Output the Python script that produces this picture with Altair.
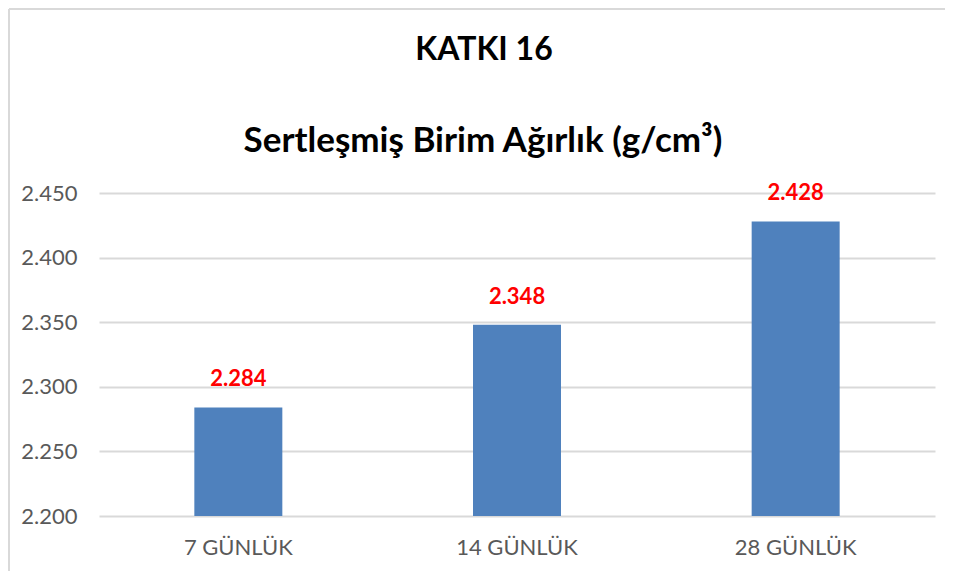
import altair as alt
import pandas as pd

categories = ["7 GÜNLÜK", "14 GÜNLÜK", "28 GÜNLÜK"]
values = [2.284, 2.348, 2.428]
y_ticks = [2.200, 2.250, 2.300, 2.350, 2.400, 2.450]
title_text = "KATKI 16"
subtitle_text = "Sertleşmiş Birim Ağırlık (g/cm³)"

df = pd.DataFrame({"cat": categories, "val": values})

W, H = 836, 323
PL, PT = 91, 185
FONT = "Lato"

x = alt.X(
    "cat:N", sort=categories, title=None,
    scale=alt.Scale(paddingInner=0, paddingOuter=0),
    axis=alt.Axis(labelAngle=0, labelFont=FONT, labelFontSize=22, labelColor="#595959",
                  ticks=False, domain=False, labelPadding=21),
)
y = alt.Y(
    "val:Q", title=None,
    scale=alt.Scale(domain=[2.2, 2.45], zero=False, nice=False),
    axis=alt.Axis(values=y_ticks, format=".3f", grid=True, gridColor="#d9d9d9", gridWidth=2,
                  domain=False, ticks=False, labelPadding=22, labelFont=FONT,
                  labelFontSize=22, labelColor="#595959"),
)

one = pd.DataFrame({"k": [0]})

border_top = alt.Chart(one).mark_rule(stroke="#d9d9d9", strokeWidth=2).encode(
    x=alt.value(-PL + 1), x2=alt.value(W + 10), y=alt.value(-PT + 1)
)
border_left = alt.Chart(one).mark_rule(stroke="#d9d9d9", strokeWidth=2).encode(
    x=alt.value(-PL + 1), y=alt.value(-PT + 1), y2=alt.value(H + 55)
)

title_mark = alt.Chart(one).mark_text(
    font=FONT, fontSize=32, fontWeight="bold", color="#000000", align="center", baseline="alphabetic"
).encode(x=alt.value(W / 2 - 33), y=alt.value(-133), text=alt.value(title_text))

subtitle_mark = alt.Chart(one).mark_text(
    font=FONT, fontSize=35, fontWeight="bold", color="#000000", align="center", baseline="alphabetic"
).encode(x=alt.value(W / 2 - 34), y=alt.value(-41), text=alt.value(subtitle_text))

bars = alt.Chart(df).mark_bar(size=88, color="#4f81bd", clip=True).encode(
    x=x, y=y, y2=alt.Y2(datum=2.2)
)
labels = alt.Chart(df).mark_text(
    dy=-16, baseline="bottom", color="#ff0000", fontWeight="bold", font=FONT, fontSize=22
).encode(x=x, y=y, text=alt.Text("val:Q", format=".3f"))

chart = alt.layer(border_top, border_left, title_mark, subtitle_mark, bars, labels).properties(
    width=W, height=H,
    autosize=alt.AutoSizeParams(type="none"),
    padding={"left": PL, "top": PT, "right": 10, "bottom": 55},
).configure_view(stroke=None)

chart.save("out.html", embed_options={"renderer": "svg", "actions": False})
